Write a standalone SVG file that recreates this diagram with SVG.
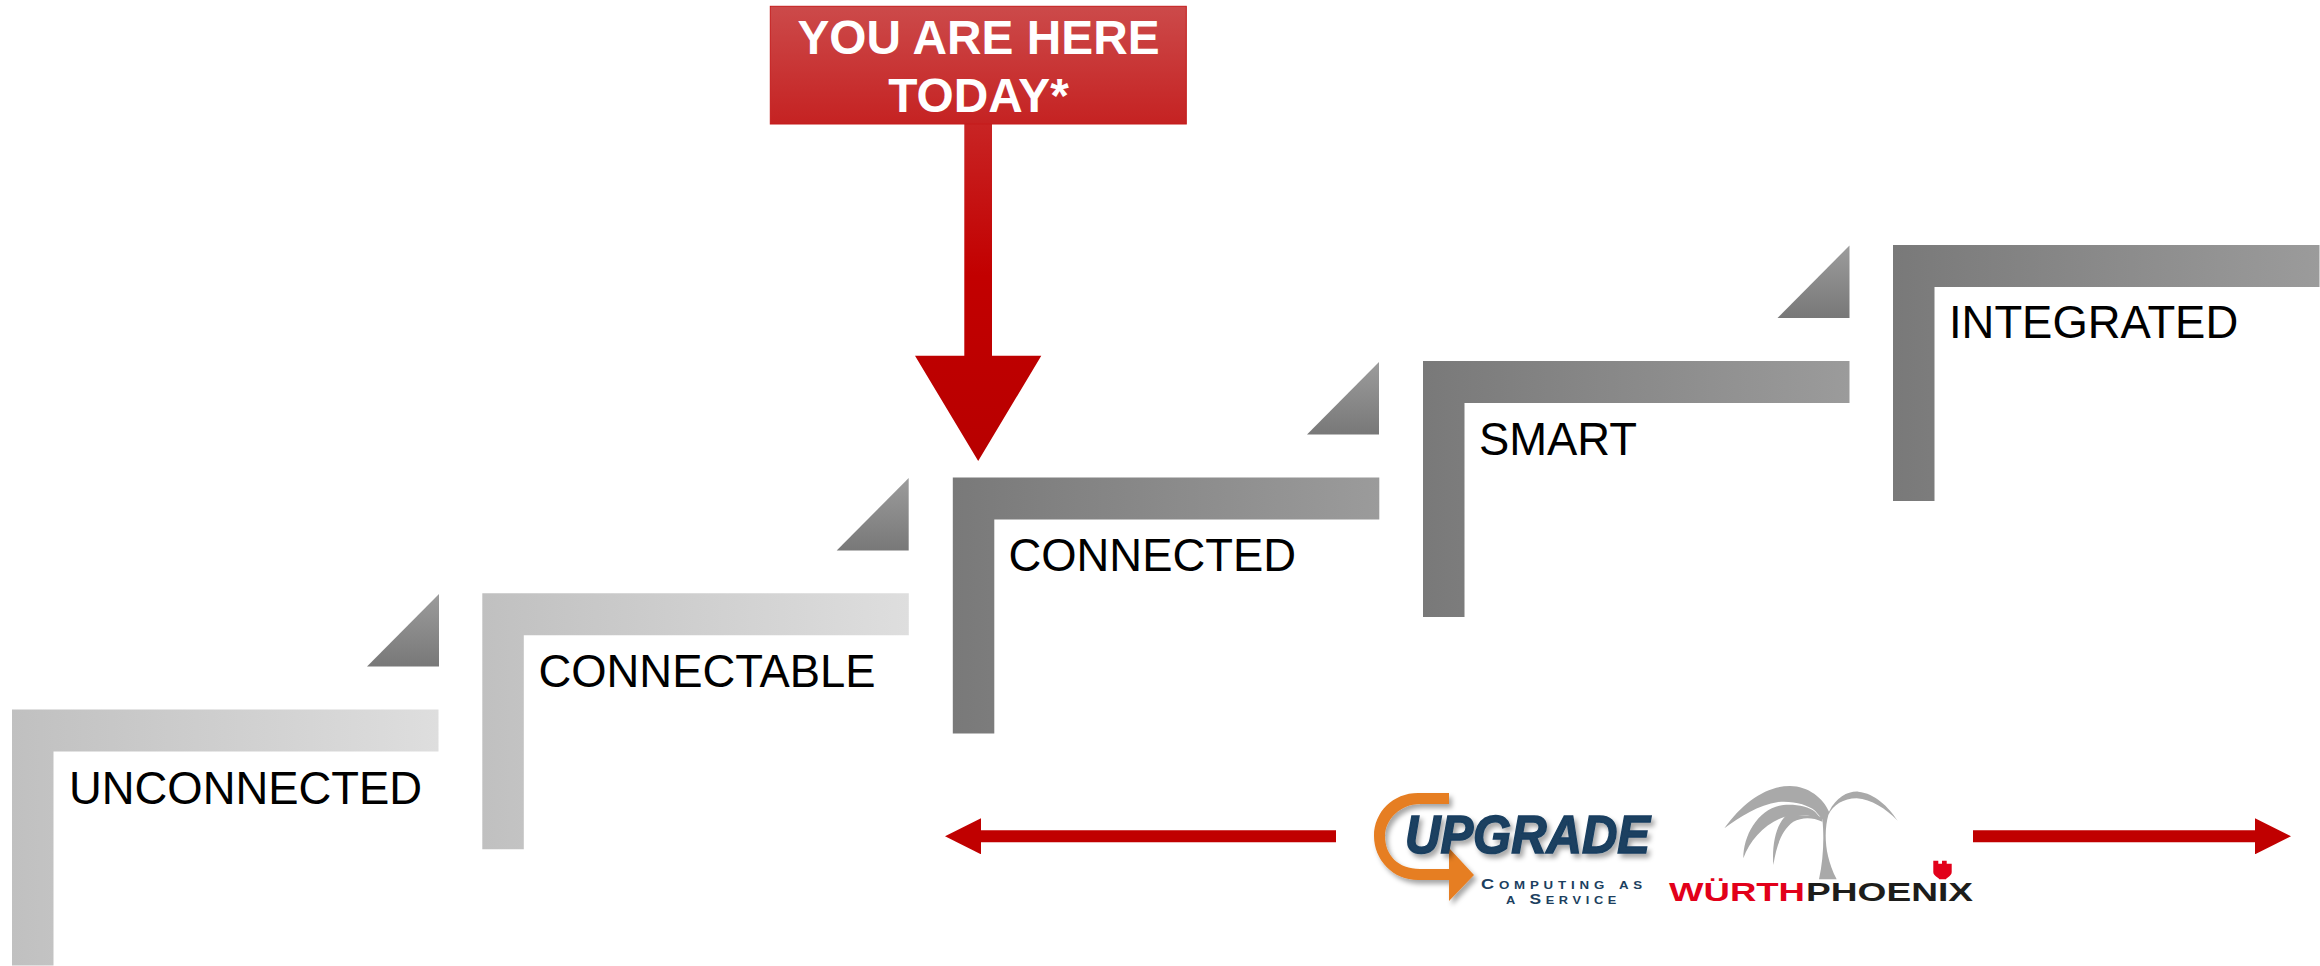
<svg xmlns="http://www.w3.org/2000/svg" width="2320" height="966" viewBox="0 0 2320 966">
<style>
.label{font-family:"Liberation Sans",Arial,sans-serif;font-size:45.4px;fill:#000}
.head{font-family:"Liberation Sans",Arial,sans-serif;font-size:47.8px;font-weight:bold;fill:#fff;text-anchor:middle}
.lite{fill:url(#lite)}
.dark{fill:url(#dark)}
.tri{fill:url(#tri)}
.sub{font-family:"Liberation Sans",Arial,sans-serif;font-size:15px;font-weight:bold;font-variant:small-caps;fill:#1c3f60;letter-spacing:4px}
.wp{font-family:"Liberation Sans",Arial,sans-serif;font-size:26px;font-weight:bold}
.conn{stroke:#c00000;stroke-width:12;fill:none;marker-end:url(#ah)}
</style>
<defs>
<linearGradient id="lite" x1="0" y1="0" x2="1" y2="0"><stop offset="0" stop-color="#c0c0c0"/><stop offset="1" stop-color="#dedede"/></linearGradient>
<linearGradient id="dark" x1="0" y1="0" x2="1" y2="0"><stop offset="0" stop-color="#797979"/><stop offset="1" stop-color="#9b9b9b"/></linearGradient>
<linearGradient id="tri" x1="0" y1="0" x2="0" y2="1"><stop offset="0" stop-color="#9c9c9c"/><stop offset="1" stop-color="#787878"/></linearGradient>
<linearGradient id="box" x1="0" y1="0" x2="0" y2="1"><stop offset="0" stop-color="#cc4a4a"/><stop offset="1" stop-color="#c52222"/></linearGradient>
<linearGradient id="big" gradientUnits="userSpaceOnUse" x1="0" y1="124" x2="0" y2="461"><stop offset="0" stop-color="#c82424"/><stop offset="0.45" stop-color="#c20000"/><stop offset="1" stop-color="#b80000"/></linearGradient>
<marker id="ah" markerUnits="userSpaceOnUse" viewBox="0 0 36 36" refX="0" refY="18" markerWidth="36" markerHeight="36" orient="auto"><path d="M0 0L36 18L0 36z" fill="#c00000"/></marker>
<path id="step" d="M0 0H426.5V42H41.5V256H0z"/>
<path id="wedge" d="M0 72.5H72V0z"/>
<filter id="sh" x="-10%" y="-20%" width="125%" height="150%"><feDropShadow dx="3" dy="4" stdDeviation="2.5" flood-color="#000" flood-opacity="0.35"/></filter>
</defs>
<rect width="2320" height="966" fill="#fff"/>
<g id="connectors">
<line class="conn" x1="1336" y1="836.3" x2="981" y2="836.3"/>
<line class="conn" x1="1973" y1="836.3" x2="2255" y2="836.3"/>
</g>
<g id="unconnected"><use href="#step" class="lite" x="12" y="709.5"/><text class="label" x="69" y="804">UNCONNECTED</text></g>
<g id="wedge-1"><use href="#wedge" class="tri" x="367" y="594"/></g>
<g id="connectable"><use href="#step" class="lite" x="482.3" y="593.3"/><text class="label" x="538.5" y="687">CONNECTABLE</text></g>
<g id="wedge-2"><use href="#wedge" class="tri" x="836.7" y="478"/></g>
<g id="connected"><use href="#step" class="dark" x="952.8" y="477.5"/><text class="label" x="1008.5" y="571">CONNECTED</text></g>
<g id="wedge-3"><use href="#wedge" class="tri" x="1307" y="362"/></g>
<g id="smart"><use href="#step" class="dark" x="1423" y="361"/><text class="label" x="1479" y="455">SMART</text></g>
<g id="wedge-4"><use href="#wedge" class="tri" x="1777.5" y="245.5"/></g>
<g id="integrated"><use href="#step" class="dark" x="1893" y="245"/><text class="label" x="1949" y="338">INTEGRATED</text></g>
<g id="you-are-here">
<path d="M964.3 120H992V355.7H1041.3L978.2 461L915 355.7H964.3z" fill="url(#big)"/>
<rect x="770.3" y="6.3" width="416" height="117.7" fill="url(#box)" stroke="#c41a1a" stroke-width="1"/>
<text class="head" x="978.5" y="53.5">YOU ARE HERE</text>
<text class="head" x="978.5" y="111.5">TODAY*</text>
</g>
<g id="upgrade-logo">
<path d="M1449 793H1418C1393 793 1374 812 1374 836C1374 860 1393 880 1418 880H1449V901L1474 875L1449 848V869H1420C1398 869 1385 855 1385 836C1385 820 1400 804 1420 804H1449z" fill="#e67e22" filter="url(#sh)"/>
<text x="1405" y="853" font-family="'Liberation Sans',Arial,sans-serif" font-size="53" font-weight="bold" font-style="italic" fill="#1a3f60" stroke="#1a3f60" stroke-width="1.6" textLength="245" lengthAdjust="spacingAndGlyphs" filter="url(#sh)">UPGRADE</text>
<text class="sub" x="1481" y="889" textLength="166" lengthAdjust="spacingAndGlyphs">Computing as</text>
<text class="sub" x="1506" y="904" textLength="115" lengthAdjust="spacingAndGlyphs">a Service</text>
</g>
<g id="wurth-phoenix-logo">
<g transform="translate(1715 780) scale(0.33333)" fill="#a9a9a9">
<path d="M28 145C85 65 155 18 225 18C280 18 325 55 342 95C365 50 400 33 430 35C480 40 520 80 548 122C510 85 470 58 425 55C385 55 355 75 340 105C328 150 325 220 365 298H312C325 240 328 170 322 118L300 92C280 75 235 62 190 66C130 75 75 110 28 145z"/>
<path d="M85 235C85 165 130 85 205 75C245 72 280 80 300 95L322 120C285 100 245 105 210 110C150 130 105 180 85 235z"/>
<path d="M175 255C170 190 185 130 215 105L250 105L322 110V125C290 110 260 112 235 125C200 150 185 195 175 255z"/>
</g>
<path d="M1933.3 860.7H1938.3V863.7H1942V860.7H1946.7V863.7H1951.7V872C1951.7 876 1946.7 877.3 1946 879.3H1939.3C1938.7 877.3 1933.3 876 1933.3 872z" fill="#e2001a"/>
<text class="wp" x="1669" y="901" fill="#e2001a" textLength="136" lengthAdjust="spacingAndGlyphs">WÜRTH</text>
<text class="wp" x="1806" y="901" fill="#1d1d1b" textLength="167" lengthAdjust="spacingAndGlyphs">PHOENIX</text>
</g>
</svg>
